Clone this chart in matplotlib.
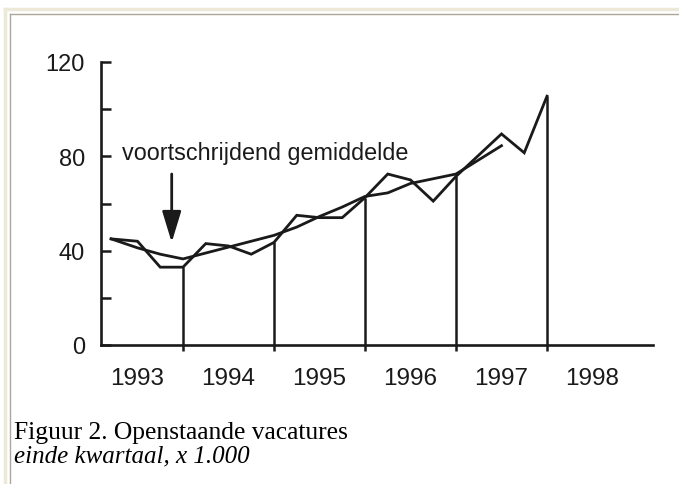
import matplotlib.pyplot as plt
from matplotlib.lines import Line2D

# open vacancies, end of quarter, x 1.000 (Q1 1993 .. Q4 1997)
years = [1993, 1994, 1995, 1996, 1997, 1998]
vacatures = [45, 44, 33, 33,
             43, 42, 38.5, 43.5,
             55, 54, 54, 62.5,
             72.5, 70, 61, 71.5,
             80.5, 89.5, 81.5, 105.5]
# moving average (Q1 1993 .. Q2 1997)
gemiddelde = [45, 41.2, 38.5, 36.5,
              39, 41.5, 44, 46.5,
              50, 54.5, 58.5, 63,
              64.5, 68.5, 70.5, 72.5,
              78.5, 84.5]
yticks = [0, 20, 40, 60, 80, 100, 120]
ylabels = ['0', '', '40', '', '80', '', '120']

ink = '#1a1a1a'
W, H = 679, 485

# quarter positions: Q4 of a year sits on the year boundary
xq = [years[0] + 0.25 * (i + 1) for i in range(len(vacatures))]
xq[0] -= 0.04
xm = list(xq[:len(gemiddelde)])
q4_x = xq[3::4]
q4_y = vacatures[3::4]

fig = plt.figure(figsize=(W / 100, H / 100), dpi=100)
fig.patch.set_facecolor('white')

ax = fig.add_axes([101 / W, 1 - 346 / H, (653 - 101) / W, (346 - 63) / H])
ax.set_xlim(1993.099, 1999.165)
ax.set_ylim(0, 120)
for s in ['top', 'right']:
    ax.spines[s].set_visible(False)
for s in ['left', 'bottom']:
    ax.spines[s].set_linewidth(1.9)
    ax.spines[s].set_color(ink)

ax.plot(xq, vacatures, color=ink, lw=2.0, solid_joinstyle='miter')
ax.plot(xm, gemiddelde, color=ink, lw=2.0, solid_joinstyle='miter')
ax.vlines(q4_x, 0, q4_y, color=ink, lw=1.8)

ax.set_yticks(yticks)
ax.set_yticklabels(ylabels, family='Liberation Sans', fontsize=17, color=ink)
ax.tick_params(axis='y', direction='in', length=7, width=1.8, color=ink, pad=11.5)

ax.set_xticks(q4_x)
ax.set_xticklabels([''] * len(q4_x))
ax.tick_params(axis='x', which='major', direction='out', length=4.5, width=1.8, color=ink)
ax.set_xticks([y + 0.5 for y in years], [str(y) for y in years], minor=True)
ax.tick_params(axis='x', which='minor', length=0, pad=15.5)
for lab in ax.get_xticklabels(minor=True):
    lab.set_family('Liberation Sans')
    lab.set_fontsize(17.5)
    lab.set_color(ink)

ax.text(1993.325, 79, 'voortschrijdend gemiddelde', family='Liberation Sans',
        fontsize=16.8, color=ink, va='baseline', ha='left')
ax.annotate('', xy=(1993.876, 43.5), xytext=(1993.876, 72.5),
            arrowprops=dict(arrowstyle='-|>,head_width=0.58,head_length=1.9',
                            color=ink, lw=2.0, shrinkA=0, shrinkB=0))

fig.text(14 / W, 1 - 439 / H, 'Figuur 2. Openstaande vacatures',
         family='Liberation Serif', fontsize=18.4, va='baseline', ha='left', color='black')
fig.text(14 / W, 1 - 462 / H, 'einde kwartaal, x 1.000', family='Liberation Serif',
         style='italic', fontsize=18, va='baseline', ha='left', color='black')

# window frame lines
fig.add_artist(Line2D([5 / W, 5 / W], [0, 1 - 10 / H], color='#ece9d8', lw=2.5))
fig.add_artist(Line2D([5 / W, 1], [1 - 10 / H, 1 - 10 / H], color='#ece9d8', lw=2.5))
fig.add_artist(Line2D([9.5 / W, 9.5 / W], [0, 1 - 14.5 / H], color='#aca899', lw=1))
fig.add_artist(Line2D([9.5 / W, 1], [1 - 14.5 / H, 1 - 14.5 / H], color='#aca899', lw=1))

fig.savefig('out.png', dpi=100)
